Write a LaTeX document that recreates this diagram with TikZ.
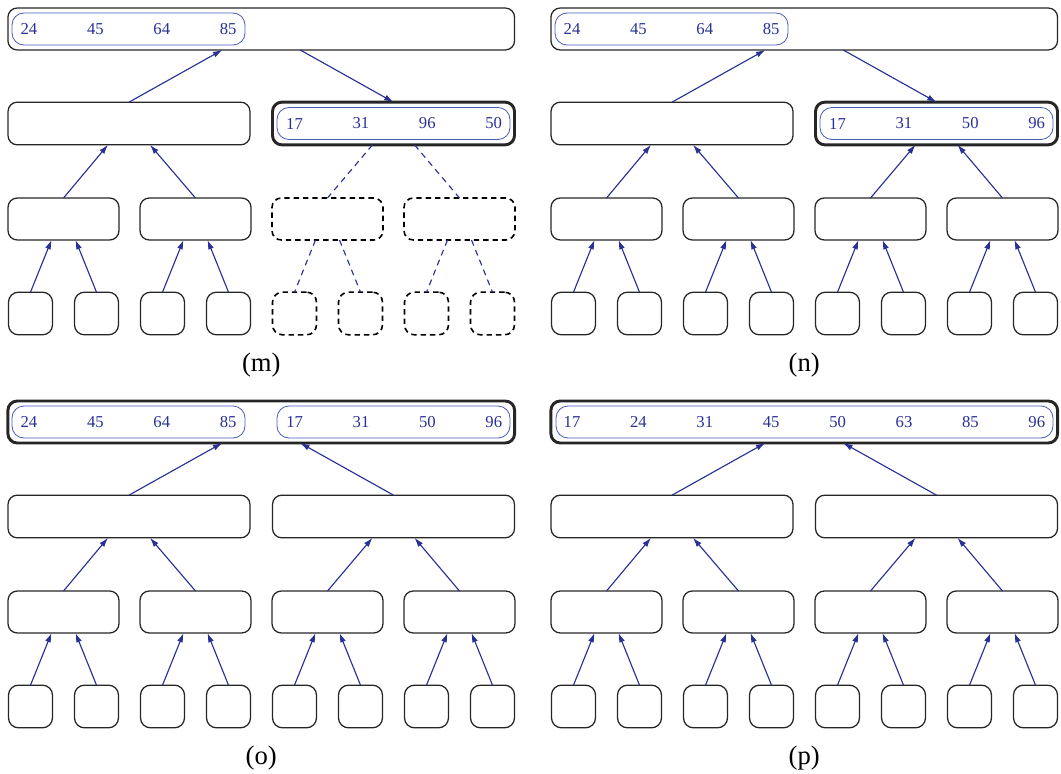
\documentclass[tikz,border=0pt]{standalone}
\usepackage{fontspec}
\setmainfont{Liberation Serif}
\usetikzlibrary{arrows.meta}

\definecolor{treeblue}{RGB}{40,48,150}
\definecolor{runblue}{RGB}{70,90,190}

\tikzset{
  box/.style={draw=black!85, line width=0.95pt, rounded corners=7pt, inner sep=0pt, outer sep=0pt},
  rootbox/.style={box, minimum width=380pt, minimum height=31.5pt},
  halfbox/.style={box, minimum width=181.5pt, minimum height=32pt},
  quarterbox/.style={box, minimum width=83.25pt, minimum height=31.5pt},
  leafbox/.style={box, minimum width=33pt, minimum height=32pt, rounded corners=7.5pt},
  active/.style={line width=2.2pt},
  idle/.style={},
  ghost/.style={draw=black, line width=1.2pt, dash pattern=on 4pt off 3pt},
  runbox/.style={draw=runblue, line width=0.6pt, rounded corners=9pt, minimum width=174.75pt, minimum height=24pt, inner sep=0pt},
  keytext/.style={text=treeblue, font=\fontsize{12.5}{14}\selectfont, inner sep=0pt},
  link/.style={draw=treeblue, line width=0.85pt, -{Latex[length=7pt,width=4.5pt]}},
  ghostlink/.style={draw=treeblue, line width=0.85pt, dash pattern=on 4.5pt off 3.5pt},
  panellabel/.style={font=\fontsize{20}{24}\selectfont, inner sep=0pt}
}

\begin{document}
\begin{tikzpicture}[x=0.75pt, y=-0.75pt]

    % Fix the page to the size of the figure
    \useasboundingbox (0,0) rectangle (1061,774);

    % (m): left half merged into the root, right half still open
    \begin{scope}
        % Nodes of the tree
        \node[rootbox] (m-root) at (261.25,29) {};
        \node[halfbox] (m-h1) at (129,123.5) {};
        \node[halfbox, active] (m-h2) at (393.5,123.5) {};
        \foreach \i in {1,2}
            \node[quarterbox] (m-q\i) at ({63.5+132*(\i-1)},219) {};
        \foreach \i in {3,4}
            \node[quarterbox, ghost] (m-q\i) at ({63.5+132*(\i-1)},219) {};
        \foreach \i in {1,...,4}
            \node[leafbox] (m-l\i) at ({30.5+66*(\i-1)},313.5) {};
        \foreach \i in {5,...,8}
            \node[leafbox, ghost] (m-l\i) at ({30.5+66*(\i-1)},313.5) {};

        % Sorted runs
        \node[runbox] (m-r1) at (128.5,29) {};
        \foreach \val [count=\i] in {24,45,64,85}
            \node[keytext] (m-k\i) at ({29+66.4*(\i-1)},29) {\val};
        \node[runbox] (m-r2) at (393.5,123.5) {};
        \foreach \val [count=\i] in {17,31,96,50}
            \node[keytext] (m-s\i) at ({294.5+66.4*(\i-1)},123.5) {\val};

        % Connectors
        \draw[link] (m-h1.north) -- ([xshift=-29.25pt]m-root.south);
        \draw[link] ([xshift=29.25pt]m-root.south) -- (m-h2.north);
        \draw[link] (m-q1.north) -- ([xshift=-15.75pt]m-h1.south);
        \draw[link] (m-q2.north) -- ([xshift=15.75pt]m-h1.south);
        \draw[ghostlink] ([xshift=-15.75pt]m-h2.south) -- (m-q3.north);
        \draw[ghostlink] ([xshift=15.75pt]m-h2.south) -- (m-q4.north);
        \foreach \child/\parent/\off in {1/1/-9,2/1/9,3/2/-9,4/2/9}
            \draw[link] (m-l\child.north) -- ([xshift=\off pt]m-q\parent.south);
        \foreach \child/\parent/\off in {5/3/-9,6/3/9,7/4/-9,8/4/9}
            \draw[ghostlink] ([xshift=\off pt]m-q\parent.south) -- (m-l\child.north);

        \node[panellabel] (m-cap) at (261.25,365) {(m)};
    \end{scope}

    % (n), (o), (p): the full trees
    \foreach \pn/\dx/\dy/\rs/\hs in {n/543/0/idle/active, o/0/393/active/idle, p/543/393/active/idle}{
        \begin{scope}[shift={(\dx,\dy)}]
            \node[rootbox, \rs] (\pn-root) at (261.25,29) {};
            \node[halfbox] (\pn-h1) at (129,123.5) {};
            \node[halfbox, \hs] (\pn-h2) at (393.5,123.5) {};
            \foreach \i in {1,...,4}
                \node[quarterbox] (\pn-q\i) at ({63.5+132*(\i-1)},219) {};
            \foreach \i in {1,...,8}
                \node[leafbox] (\pn-l\i) at ({30.5+66*(\i-1)},313.5) {};

            \foreach \child/\parent/\off in {1/1/-9,2/1/9,3/2/-9,4/2/9,5/3/-9,6/3/9,7/4/-9,8/4/9}
                \draw[link] (\pn-l\child.north) -- ([xshift=\off pt]\pn-q\parent.south);
            \foreach \child/\parent/\off in {1/1/-15.75,2/1/15.75,3/2/-15.75,4/2/15.75}
                \draw[link] (\pn-q\child.north) -- ([xshift=\off pt]\pn-h\parent.south);
            \draw[link] (\pn-h1.north) -- ([xshift=-29.25pt]\pn-root.south);

            \node[panellabel] (\pn-cap) at (261.25,365) {(\pn)};
        \end{scope}
    }

    % Right half against the root
    \draw[link] ([xshift=29.25pt]n-root.south) -- (n-h2.north);
    \draw[link] (o-h2.north) -- ([xshift=29.25pt]o-root.south);
    \draw[link] (p-h2.north) -- ([xshift=29.25pt]p-root.south);

    % Sorted runs of (n)
    \begin{scope}[shift={(543,0)}]
        \node[runbox] (n-r1) at (128.5,29) {};
        \foreach \val [count=\i] in {24,45,64,85}
            \node[keytext] (n-k\i) at ({29+66.4*(\i-1)},29) {\val};
        \node[runbox] (n-r2) at (393.5,123.5) {};
        \foreach \val [count=\i] in {17,31,50,96}
            \node[keytext] (n-s\i) at ({294.5+66.4*(\i-1)},123.5) {\val};
    \end{scope}

    % Sorted runs of (o)
    \begin{scope}[shift={(0,393)}]
        \node[runbox] (o-r1) at (128.5,29) {};
        \node[runbox] (o-r2) at (393.5,29) {};
        \foreach \val [count=\i] in {24,45,64,85,17,31,50,96}
            \node[keytext] (o-k\i) at ({29+66.4*(\i-1)},29) {\val};
    \end{scope}

    % Sorted run of (p)
    \begin{scope}[shift={(543,393)}]
        \node[runbox, minimum width=372.75pt] (p-r1) at (261.5,29) {};
        \foreach \val [count=\i] in {17,24,31,45,50,63,85,96}
            \node[keytext] (p-k\i) at ({29+66.4*(\i-1)},29) {\val};
    \end{scope}

\end{tikzpicture}
\end{document}
